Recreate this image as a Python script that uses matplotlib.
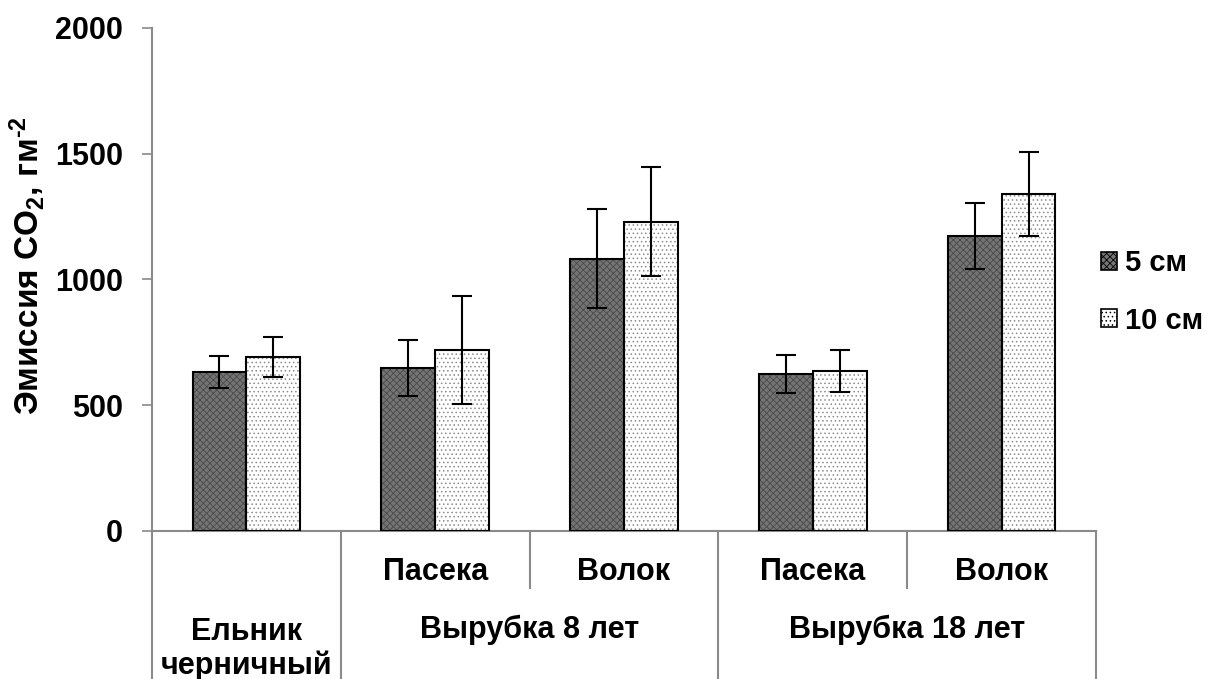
import matplotlib.pyplot as plt
from matplotlib.patches import Patch

# ---- data ----
sites = ["Ельник\nчерничный", "Пасека", "Волок", "Пасека", "Волок"]
top_labels = ["", "Пасека", "Волок", "Пасека", "Волок"]
group_labels = ["Ельник\nчерничный", "Вырубка 8 лет", "Вырубка 18 лет"]
group_centers = [0, 1.5, 3.5]
series_names = ["5 см", "10 см"]
emis_5 = [632, 648, 1082, 624, 1173]
err_5 = [64, 113, 197, 76, 133]
emis_10 = [692, 720, 1229, 636, 1340]
err_10 = [80, 215, 217, 82, 167]
yticks = [0, 500, 1000, 1500, 2000]

plt.rcParams['font.family'] = ['Liberation Sans', 'DejaVu Sans']
plt.rcParams['font.weight'] = 'bold'
plt.rcParams['mathtext.fontset'] = 'custom'
plt.rcParams['mathtext.rm'] = 'Liberation Sans:bold'
plt.rcParams['mathtext.it'] = 'Liberation Sans:bold'
plt.rcParams['mathtext.bf'] = 'Liberation Sans:bold'
plt.rcParams['hatch.linewidth'] = 0.6

fig = plt.figure(figsize=(12.08, 6.79), dpi=100)
ax = fig.add_axes([0.1258, 0.218, 0.7815, 0.7408])

grey = '#8a8a8a'
fs = 22
x = list(range(len(sites)))
w = 0.285
x5 = [i - w / 2 for i in x]
x10 = [i + w / 2 for i in x]

# dark bars: fill + hatch, then outline
plt.rcParams['hatch.color'] = '#4a4a4a'
ax.bar(x5, emis_5, w, color='#747474', edgecolor='#4a4a4a', hatch='xxxxx', lw=0, zorder=2)
ax.bar(x5, emis_5, w, fill=False, edgecolor='black', lw=1.5, zorder=3)
ax.bar(x10, emis_10, w, color='white', edgecolor='#8c8c8c', hatch='....', lw=0, zorder=2)
ax.bar(x10, emis_10, w, fill=False, edgecolor='black', lw=1.5, zorder=3)

ax.errorbar(x5, emis_5, yerr=err_5, fmt='none', ecolor='black', elinewidth=1.5,
            capsize=7, capthick=1.5, zorder=4)
ax.errorbar(x10, emis_10, yerr=err_10, fmt='none', ecolor='black', elinewidth=1.5,
            capsize=7, capthick=1.5, zorder=4)

ax.set_xlim(-0.5, 4.5)
ax.set_ylim(0, 2000)
ax.set_yticks(yticks)
ax.tick_params(axis='y', direction='out', length=7, width=1.2, color=grey,
               labelsize=fs, pad=14)
ax.set_xticks([])
for s in ['top', 'right']:
    ax.spines[s].set_visible(False)
for s in ['left', 'bottom']:
    ax.spines[s].set_color(grey)
    ax.spines[s].set_linewidth(1.5)

ax.set_ylabel("Эмиссия CO$_{2}$, гм$^{\u2010 2}$", fontsize=24, fontweight='bold')
ax.yaxis.set_label_coords(-0.111, 0.528)

# multi-level category axis
tr = ax.get_xaxis_transform()
for b in [-0.5, 0.5, 2.5, 4.5]:
    ax.plot([b, b], [0, -0.294], color=grey, lw=1.5, transform=tr, clip_on=False)
for b in [1.5, 3.5]:
    ax.plot([b, b], [0, -0.113], color=grey, lw=1.5, transform=tr, clip_on=False)
for i, lab in enumerate(top_labels):
    if lab:
        ax.text(i, -0.0815, lab, transform=tr, ha='center', va='center', fontsize=fs)
ax.text(group_centers[0], -0.235, group_labels[0], transform=tr, ha='center',
        va='center', fontsize=fs, linespacing=1.15)
for c, lab in zip(group_centers[1:], group_labels[1:]):
    ax.text(c, -0.197, lab, transform=tr, ha='center', va='center', fontsize=fs)

handles = [Patch(facecolor='#747474', edgecolor='black', hatch='xxxxx', lw=1.2),
           Patch(facecolor='white', edgecolor='black', hatch='....', lw=1.2)]
fig.legend(handles, series_names, loc='center left', bbox_to_anchor=(0.9015, 0.57),
           frameon=False, fontsize=21, handlelength=0.55, handleheight=0.55,
           handletextpad=0.3, labelspacing=1.0, borderaxespad=0)

fig.savefig('out.png', dpi=100)
